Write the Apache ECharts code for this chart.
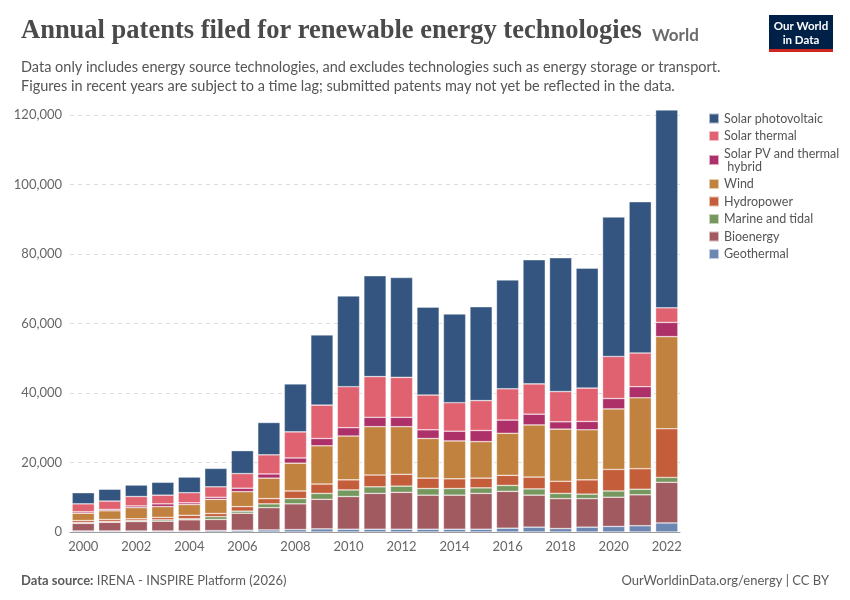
<!DOCTYPE html><html><head><meta charset="utf-8"><script src="https://cdn.jsdelivr.net/npm/echarts@6/dist/echarts.min.js"></script>
<style>body{margin:0}#c{width:850px;height:600px}</style></head><body><div id="c"></div><script>
const years=['2000','2001','2002','2003','2004','2005','2006','2007','2008','2009','2010','2011','2012','2013','2014','2015','2016','2017','2018','2019','2020','2021','2022'];
// cumulative stack tops (thousands)
const topGeo=[0.3,0.3,0.3,0.3,0.3,0.4,0.5,0.6,0.7,0.9,0.8,0.8,0.8,0.8,0.8,0.8,1.1,1.4,1.0,1.4,1.6,1.8,2.6];
const topBio=[2.5,2.8,3.0,3.1,3.5,3.6,5.4,7.0,8.1,9.4,10.2,11.1,11.4,10.6,10.6,11.1,11.7,10.6,9.6,9.6,10.0,10.7,14.3];
const topMarine=[2.7,3.0,3.3,3.5,3.8,4.4,6.0,8.1,9.6,11.1,12.1,13.0,13.2,12.5,12.5,12.7,13.4,12.4,11.1,10.9,11.8,12.3,15.7];
const topHydro=[3.3,3.6,3.8,4.2,4.8,5.3,7.3,9.6,11.8,13.8,15.0,16.4,16.6,15.5,15.3,15.5,16.3,15.8,14.6,15.0,18.0,18.2,29.7];
const topWind=[5.4,6.1,7.0,7.3,7.9,9.4,11.6,15.5,19.8,24.8,27.6,30.3,30.3,26.9,26.2,26.0,28.4,30.8,29.6,29.4,35.4,38.6,56.2];
const topHybrid=[5.8,6.5,7.5,8.1,8.4,10.0,12.6,16.7,21.3,26.9,30.0,33.0,33.0,29.4,29.0,29.2,32.2,33.9,31.7,31.8,38.4,41.8,60.3];
const topThermal=[8.1,8.9,10.2,10.6,11.3,13.0,16.8,22.2,28.8,36.5,41.8,44.7,44.5,39.4,37.2,37.8,41.2,42.6,40.4,41.4,50.5,51.5,64.5];
const topPV=[11.3,12.3,13.5,14.3,15.8,18.3,23.4,31.5,42.6,56.7,67.9,73.7,73.2,64.7,62.7,64.8,72.5,78.3,78.9,75.9,90.6,95.0,121.4];
const names=['Geothermal','Bioenergy','Marine and tidal','Hydropower','Wind','Solar PV and thermal hybrid','Solar thermal','Solar photovoltaic'];
const colors=['#6d87b3','#a05a60','#76985f','#c45d3a','#c2823f','#ad3068','#e0616f','#335580'];
const tops=[topGeo,topBio,topMarine,topHydro,topWind,topHybrid,topThermal,topPV];
const series=names.map((n,i)=>({name:n,type:'bar',stack:'a',barCategoryGap:'16%',
 itemStyle:{color:colors[i],borderColor:'rgba(255,255,255,0.6)',borderWidth:0.6},
 data:tops[i].map((v,j)=>Math.round(Math.max(0,(v-(i?tops[i-1][j]:0)))*1000))}));
const ch=echarts.init(document.getElementById('c'));
ch.setOption({animation:false,
 title:[{text:'Annual patents filed for renewable energy technologies',left:16,top:13,textStyle:{fontFamily:'Liberation Serif',fontSize:26.5,fontWeight:'bold',color:'#4a4a4a'}},
  {text:'World',left:647,top:22,textStyle:{fontFamily:'Lato',fontSize:17,fontWeight:'bold',color:'#6b6b6b'}},
  {text:'Data only includes energy source technologies, and excludes technologies such as energy storage or transport.\nFigures in recent years are subject to a time lag; submitted patents may not yet be reflected in the data.',left:16,top:53,textStyle:{fontFamily:'Lato',fontSize:14.5,fontWeight:'normal',color:'#555',lineHeight:19}},
  {text:'{b|Data source:} {n|IRENA - INSPIRE Platform (2026)}',left:16,top:569,textStyle:{fontFamily:'Lato',fontSize:13,fontWeight:'normal',color:'#5b5b5b',rich:{b:{fontFamily:'Lato',fontSize:13,fontWeight:'bold',color:'#5b5b5b'},n:{fontFamily:'Lato',fontSize:13,fontWeight:'normal',color:'#5b5b5b'}}}},
  {text:'OurWorldinData.org/energy | CC BY',right:16,top:569,textStyle:{fontFamily:'Lato',fontSize:13,fontWeight:'normal',color:'#5b5b5b'}}],
 graphic:[{type:'rect',x:769,y:15,shape:{width:64,height:36},style:{fill:'#002147'}},
  {type:'rect',x:769,y:49,shape:{width:64,height:3},style:{fill:'#ce261e'}},
  {type:'text',x:801,y:19,style:{text:'Our World\nin Data',fill:'#fff',font:'bold 11.5px Lato',textAlign:'center',lineHeight:14}}],
 legend:{orient:'vertical',left:703,top:107,itemWidth:10,itemHeight:10,itemGap:4.5,icon:'rect',
  data:names.slice().reverse(),textStyle:{fontFamily:'Lato',fontSize:12.5,color:'#555',width:118,overflow:'break',lineHeight:13}},
 grid:{left:70,right:170,top:110,bottom:68,containLabel:false},
 xAxis:{type:'category',data:years,axisTick:{alignWithLabel:true,interval:1,lineStyle:{color:'#999'}},axisLine:{lineStyle:{color:'#999'}},
  axisLabel:{interval:1,fontFamily:'Lato',fontSize:13,color:'#666'}},
 yAxis:{type:'value',min:0,max:121400,interval:20000,axisLabel:{showMaxLabel:false,fontFamily:'Lato',fontSize:13,color:'#666',formatter:v=>v%20000?'':v.toLocaleString('en-US')},
  splitLine:{showMaxLine:false,lineStyle:{type:[4,4],color:'#ddd'}}},
 series});
</script></body></html>
